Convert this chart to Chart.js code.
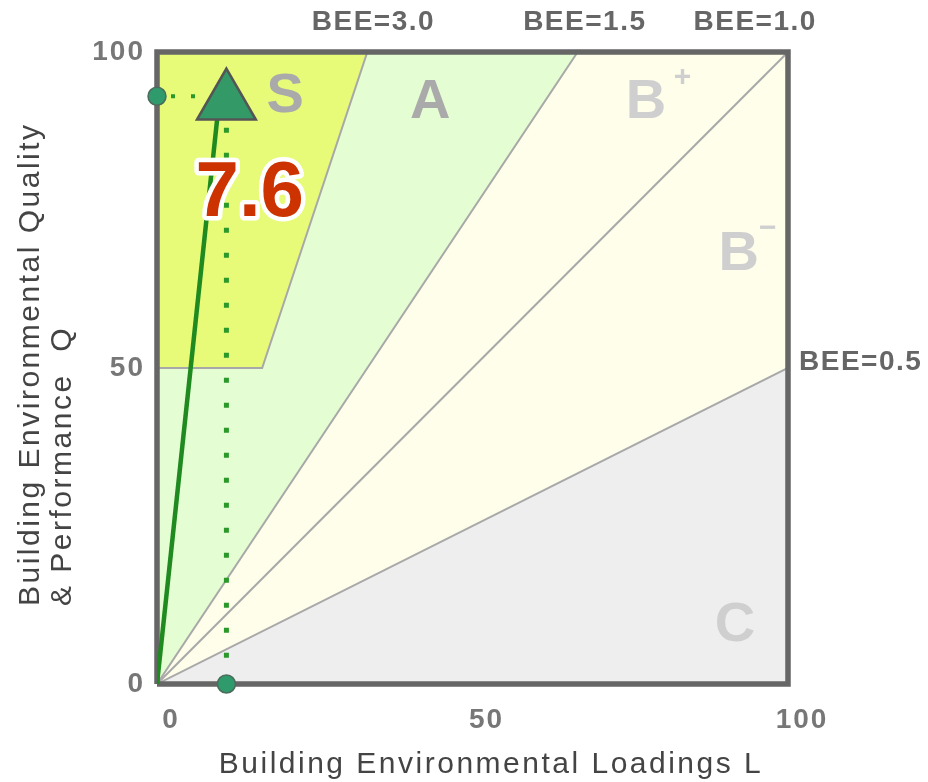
<!DOCTYPE html>
<html>
<head>
<meta charset="utf-8">
<script src="https://cdn.jsdelivr.net/npm/chart.js@4/dist/chart.umd.min.js"></script>
<style>
  html, body { margin: 0; padding: 0; background: #fff; }
</style>
</head>
<body>
<canvas id="chart" width="928" height="782"></canvas>
<script>
// rank areas, in (L, Q) points, split by BEE = Q / L
const rankS = [[0, 50], [0, 100], [100 / 3, 100], [50 / 3, 50]]
const rankA = [[0, 0], [0, 50], [50 / 3, 50], [100 / 3, 100], [200 / 3, 100]]
const rankB = [[0, 0], [200 / 3, 100], [100, 100], [100, 50]]
const rankC = [[0, 0], [100, 50], [100, 0]]

// BEE boundary lines
const bee30 = [[0, 50], [50 / 3, 50], [100 / 3, 100]]
const bee15 = [[0, 0], [200 / 3, 100]]
const bee10 = [[0, 0], [100, 100]]
const bee05 = [[0, 0], [100, 50]]
const beeLabels = ['BEE=3.0', 'BEE=1.5', 'BEE=1.0', 'BEE=0.5']

// the building result
const buildingL = 11
const buildingQ = 93
const resultArrow = [[0, 0], [9.6, 90]]
const beeValue = '7.6'

const frame = [[0, 0], [0, 100], [100, 100], [100, 0], [0, 0]]
const axisTicks = [0, 50, 100]

const toPts = arr => arr.map(([x, y]) => ({ x, y }))

Chart.defaults.font.family = "'Liberation Sans', Arial, sans-serif"

const area = (data, color, order) => ({
  data: toPts(data),
  showLine: true,
  fill: 'shape',
  backgroundColor: color,
  borderWidth: 0,
  pointRadius: 0,
  order
})

const boundary = (data) => ({
  data: toPts(data),
  showLine: true,
  fill: false,
  borderColor: '#a8a8a8',
  borderWidth: 2,
  pointRadius: 0,
  order: 6
})

// wider spacing for the tick labels, like the original
const spacingPlugin = {
  id: 'spacing',
  beforeDraw (chart) {
    chart.ctx.letterSpacing = '2px'
  }
}

const textPlugin = {
  id: 'beeText',
  afterDatasetsDraw (chart) {
    const { ctx, scales: { x, y } } = chart
    const px = v => x.getPixelForValue(v)
    const py = v => y.getPixelForValue(v)
    ctx.save()

    // rank letters
    ctx.letterSpacing = '0px'
    ctx.textAlign = 'center'
    ctx.textBaseline = 'middle'
    ctx.font = "bold 56px 'Liberation Sans', Arial, sans-serif"
    ctx.fillStyle = '#aaaaaa'
    ctx.fillText('S', px(20.3), py(93))
    ctx.fillText('A', px(43.3), py(92))
    ctx.fillStyle = '#cfcfcf'
    ctx.fillText('B', px(77.5), py(92))
    ctx.fillText('B', px(92.2), py(68))
    ctx.fillText('C', px(91.6), py(9.3))
    ctx.font = "bold 30px 'Liberation Sans', Arial, sans-serif"
    ctx.fillText('+', px(83.3), py(96))
    ctx.fillText('\u2212', px(96.8), py(72))

    // BEE labels
    ctx.letterSpacing = '1.5px'
    ctx.font = "bold 28px 'Liberation Sans', Arial, sans-serif"
    ctx.fillStyle = '#666'
    ctx.fillText(beeLabels[0], px(34.3), 22)
    ctx.fillText(beeLabels[1], px(67.8), 22)
    ctx.fillText(beeLabels[2], px(94.8), 22)
    ctx.textAlign = 'left'
    ctx.fillText(beeLabels[3], px(100) + 11, py(50) - 6)

    // result value
    ctx.letterSpacing = '0px'
    ctx.textAlign = 'center'
    ctx.font = "bold 78px 'Liberation Sans', Arial, sans-serif"
    ctx.lineJoin = 'round'
    ctx.lineWidth = 9
    ctx.strokeStyle = '#fff'
    ctx.strokeText(beeValue, px(14.7), py(77.4))
    ctx.fillStyle = '#cc3300'
    ctx.fillText(beeValue, px(14.7), py(77.4))

    // axis titles
    ctx.letterSpacing = '2.5px'
    ctx.font = "30px 'Liberation Sans', Arial, sans-serif"
    ctx.fillStyle = '#444'
    ctx.fillText('Building Environmental Loadings L', 491, 765)

    ctx.rotate(-Math.PI / 2)
    ctx.textAlign = 'left'
    ctx.fillText('Building Environmental Quality', -606, 31)
    ctx.fillText('& Performance  Q', -606, 63)
    ctx.restore()
  }
}

new Chart(document.getElementById('chart'), {
  type: 'scatter',
  data: {
    datasets: [
      {
        data: [{ x: 0, y: buildingQ }, { x: buildingL, y: 0 }],
        pointRadius: 9,
        backgroundColor: '#2f9a6b',
        borderColor: '#4d6b5c',
        borderWidth: 1.5,
        clip: false,
        order: 0
      },
      {
        data: [{ x: buildingL, y: buildingQ - 1 }],
        pointStyle: 'triangle',
        pointRadius: 34,
        backgroundColor: '#339966',
        borderColor: '#555',
        borderWidth: 2.5,
        clip: false,
        order: 1
      },
      {
        data: toPts(resultArrow),
        showLine: true,
        borderColor: '#1f8a1f',
        borderWidth: 4.5,
        pointRadius: 0,
        order: 2
      },
      {
        data: [{ x: buildingL, y: 88 }, { x: buildingL, y: 0 }],
        showLine: true,
        borderColor: '#2a992a',
        borderWidth: 5,
        borderDash: [5, 20],
        pointRadius: 0,
        order: 3
      },
      {
        data: [{ x: 0, y: buildingQ }, { x: buildingL, y: buildingQ }],
        showLine: true,
        borderColor: '#2a992a',
        borderWidth: 4,
        borderDash: [4, 16],
        borderDashOffset: -14,
        pointRadius: 0,
        order: 3
      },
      {
        data: toPts(frame),
        showLine: true,
        borderColor: '#666',
        borderWidth: 5.5,
        borderJoinStyle: 'miter',
        pointRadius: 0,
        clip: false,
        order: 5
      },
      boundary(bee30),
      boundary(bee15),
      boundary(bee10),
      boundary(bee05),
      area(rankS, '#e7fb79', 10),
      area(rankA, '#e5fdd2', 10),
      area(rankB, '#fefeea', 10),
      area(rankC, '#eeeeee', 10)
    ]
  },
  options: {
    responsive: false,
    animation: false,
    events: [],
    layout: {
      padding: { left: 0, top: 52, right: 140, bottom: 0 }
    },
    plugins: {
      legend: { display: false },
      tooltip: { enabled: false }
    },
    scales: {
      x: {
        type: 'linear',
        min: 0,
        max: 100,
        afterBuildTicks: scale => { scale.ticks = axisTicks.map(value => ({ value })) },
        afterFit: scale => { scale.height = 98 },
        grid: { display: false, drawTicks: false },
        border: { display: false },
        ticks: {
          padding: 19,
          labelOffset: 14,
          color: '#777',
          font: { size: 28, weight: 'bold' }
        }
      },
      y: {
        type: 'linear',
        min: 0,
        max: 100,
        afterBuildTicks: scale => { scale.ticks = axisTicks.map(value => ({ value })) },
        afterFit: scale => { scale.width = 157 },
        grid: { display: false, drawTicks: false },
        border: { display: false },
        ticks: {
          padding: 12,
          color: '#777',
          font: { size: 28, weight: 'bold' }
        }
      }
    }
  },
  plugins: [spacingPlugin, textPlugin]
})
</script>
</body>
</html>
